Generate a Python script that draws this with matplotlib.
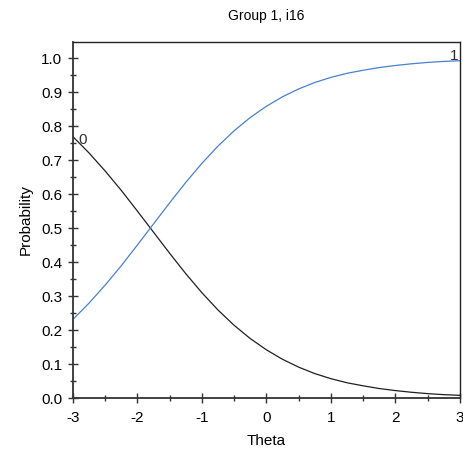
import matplotlib
matplotlib.use("Agg")
import matplotlib.pyplot as plt
from matplotlib.ticker import MultipleLocator

plt.rcParams['font.family'] = ['Liberation Sans', 'DejaVu Sans']

# theta grid and category probabilities
theta = [-3.0, -2.75, -2.5, -2.25, -2.0, -1.75, -1.5, -1.25, -1.0, -0.75, -0.5, -0.25,
         0.0, 0.25, 0.5, 0.75, 1.0, 1.25, 1.5, 1.75, 2.0, 2.25, 2.5, 2.75, 3.0]
p_cat1 = [0.231, 0.279, 0.332, 0.389, 0.450, 0.512, 0.574, 0.634, 0.690, 0.741, 0.786, 0.825,
          0.858, 0.886, 0.909, 0.928, 0.943, 0.955, 0.964, 0.972, 0.978, 0.983, 0.987, 0.990, 0.992]
p_cat0 = [0.769, 0.721, 0.668, 0.611, 0.550, 0.488, 0.426, 0.366, 0.310, 0.259, 0.214, 0.175,
          0.142, 0.114, 0.091, 0.072, 0.057, 0.045, 0.036, 0.028, 0.022, 0.017, 0.013, 0.010, 0.008]

fig = plt.figure(figsize=(4.64, 4.57), dpi=100)
ax = fig.add_axes([0.157, 0.129, 0.834, 0.779])

ax.plot(theta, p_cat0, color='#202020', lw=0.9)
ax.plot(theta, p_cat1, color='#4a80d0', lw=0.9)

# curve labels at the ends
ax.text(theta[0] + 0.08, p_cat0[0] - 0.01, '0', color='#303030', fontsize=11, ha='left', va='center')
ax.text(theta[-1] - 0.02, p_cat1[-1] + 0.015, '1', color='#303030', fontsize=11, ha='right', va='center')

ax.set_xlim(-3, 3)
ax.set_ylim(0, 1.047)
ax.xaxis.set_major_locator(MultipleLocator(1))
ax.xaxis.set_minor_locator(MultipleLocator(0.5))
ax.yaxis.set_major_locator(MultipleLocator(0.1))
ax.yaxis.set_minor_locator(MultipleLocator(0.05))
ax.yaxis.set_major_formatter(plt.FormatStrFormatter('%.1f'))
ax.xaxis.set_major_formatter(plt.FormatStrFormatter('%d'))

ax.tick_params(which='both', direction='inout', color='#333333', labelsize=11, pad=4)
ax.tick_params(axis='x', pad=6)
ax.tick_params(which='major', length=7, width=1)
ax.tick_params(which='minor', length=5, width=1)

for s in ['left', 'bottom']:
    ax.spines[s].set_linewidth(1.3)
    ax.spines[s].set_color('#333333')
for s in ['top', 'right']:
    ax.spines[s].set_linewidth(1.0)
    ax.spines[s].set_color('#222222')

ax.set_title('Group 1, i16', fontsize=10, pad=16)
ax.set_xlabel('Theta', fontsize=11, labelpad=6)
ax.set_ylabel('Probability', fontsize=11, labelpad=6)

fig.savefig('out.png', dpi=100)
